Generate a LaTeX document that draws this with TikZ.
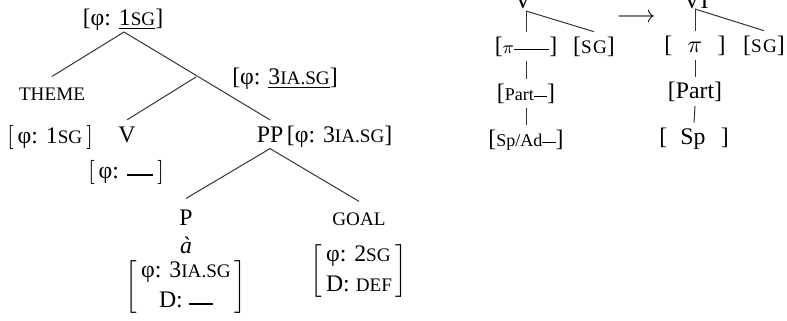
\documentclass[tikz,border=0pt]{standalone}
\usepackage{fontspec}
\setmainfont{Liberation Serif}
\usetikzlibrary{positioning}

% fake small caps and feature blanks
\newcommand\fsc[1]{{\fontsize{8.7}{9}\selectfont #1}}
\newcommand\smalltxt[1]{{\fontsize{8.2}{9}\selectfont #1}}
\newcommand\blank[1]{\rule[0.25ex]{#1}{0.75pt}}

\tikzset{
  cat/.style={inner sep=0pt, outer sep=5pt, anchor=base},
  feat/.style={inner sep=0pt, anchor=base},
  rnode/.style={inner sep=0pt, outer sep=2.2pt, anchor=base},
  branch/.style={draw=black!80, line width=0.45pt},
}

\begin{document}
\begin{tikzpicture}[x=0.4545pt,y=-0.4545pt,font=\fontsize{10.8}{12.5}\selectfont]
\clip (0,0) rectangle (787,320);

% ---- left tree
\coordinate (root) at (124,32);
\coordinate (mid) at (196,77);
\node[feat] (rootf) at (123,25) {[φ: \underline{1\fsc{SG}}]};
\node[feat] (midf) at (285,84) {[φ: \underline{3\fsc{IA.SG}}]};

\node[cat] (theme) at (52,100) {\fsc{THEME}};
\node[cat,outer sep=3pt] (v) at (127,142) {V};
\node[cat,outer sep=3pt] (pp) at (270,142) {PP};
\node[feat,anchor=base west] (ppf) at ([xshift=-1.5pt]pp.base east) {[φ: 3\fsc{IA.SG}]};
\node (themef) at (50,137) {$\bigl[$\,φ: 1\fsc{SG}\,$\bigr]$};
\node (vf) at (126,172) {$\bigl[$\,φ: \blank{12pt}\,$\bigr]$};

\node[cat] (p) at (186,225) {P};
\node[cat] (goal) at (359,225) {\fsc{GOAL}};
\node[feat] (a) at (186,253) {\textit{à}};
\node (pf) at (186,287) {$\left[\begin{tabular}{@{\,}c@{\,}}φ: 3\fsc{IA.SG}\\[1pt] D: \blank{11pt}\end{tabular}\right]$};
\node (goalf) at (359,271) {$\left[\begin{tabular}{@{\,}l@{\,}}φ: 2\fsc{SG}\\[1pt] D: \fsc{DEF}\end{tabular}\right]$};

\draw[branch] (root) -- (theme.north);
\draw[branch] (root) -- (pp.north);
\draw[branch] (mid) -- (v.north);
\draw[branch] (pp.south) -- (p.north);
\draw[branch] (pp.south) -- (goal.north);

% ---- right trees
\node[rnode] (vl) at (523,8) {V};
\coordinate (vpt) at (526,11);
\node[rnode] (pi1) at (526,53) {[{\fontsize{8.5}{9}\selectfont$\pi$}\blank{16pt}]};
\node[rnode] (sg1) at (594,53) {[\fsc{S\kern0.6pt G}]};
\node[rnode] (part1) at (526,100) {[\smalltxt{Part}\blank{6pt}]};
\node[rnode] (sp1) at (526,146) {[\smalltxt{Sp/Ad}\blank{6pt}]};

\node (arr) at (636,18) {$\longrightarrow$};

\node[rnode] (vi) at (696,8) {VI};
\coordinate (vipt) at (695,9);
\node[rnode] (pi2) at (695,52) {[\hspace{7pt}$\pi$\hspace{7pt}]};
\node[rnode] (sg2) at (764,52) {[\fsc{S\kern0.6pt G}]};
\node[rnode] (part2) at (695,98) {[Part]};
\node[rnode] (sp2) at (694,144) {[\hspace{6pt}Sp\hspace{7pt}]};

\draw[branch] (vpt) -- (pi1.north);
\draw[branch] (vpt) -- (sg1.north);
\draw[branch] (pi1.south) -- (part1.north);
\draw[branch] (part1.south) -- (sp1.north);

\draw[branch] (vipt) -- (pi2.north);
\draw[branch] (vipt) -- (sg2.north);
\draw[branch] (pi2.south) -- (part2.north);
\draw[branch] (part2.south) -- (sp2.north);
\end{tikzpicture}
\end{document}
